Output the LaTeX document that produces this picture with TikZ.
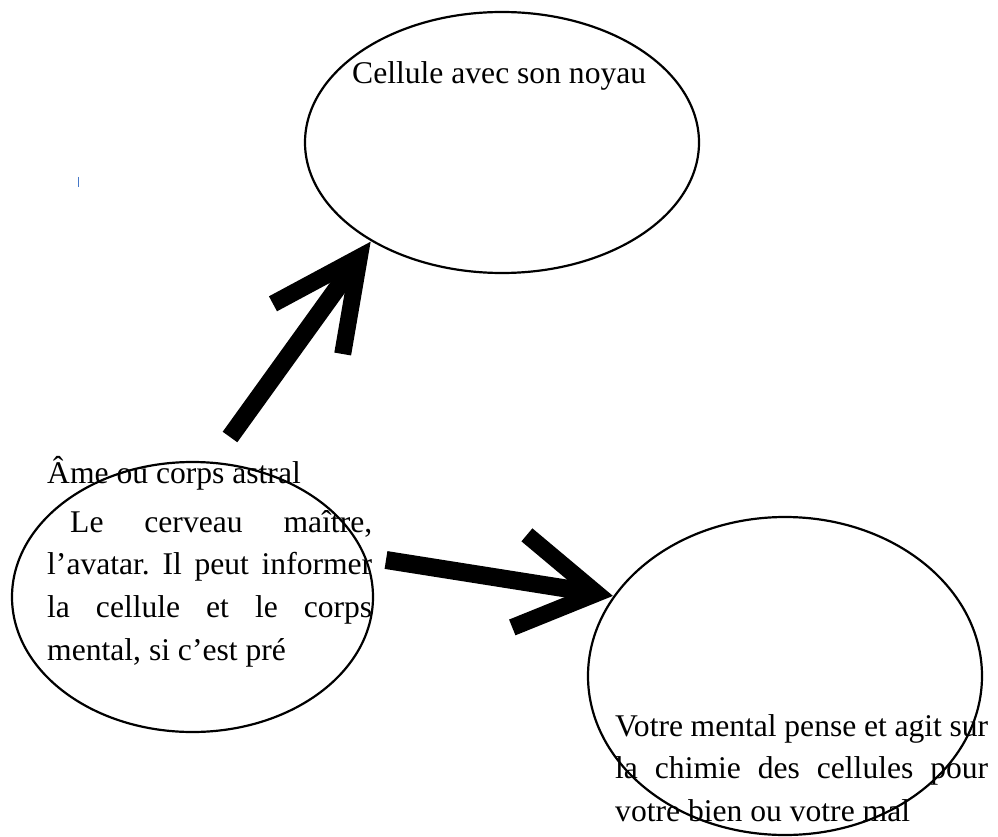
\documentclass[tikz,border=0pt]{standalone}
\usepackage{fontspec}
\setmainfont{Liberation Serif}
\usetikzlibrary{shapes.geometric,calc}
\definecolor{cursorblue}{RGB}{70,120,200}
\begin{document}
\frenchspacing
\begin{tikzpicture}[x=1pt,y=-1pt,
  bubble/.style={draw=black, line width=2.2pt, ellipse, inner sep=0pt},
  txt/.style={inner sep=0pt, font=\fontsize{31.6}{42.7}\selectfont},
  para/.style={txt, align=justify},
  shaft/.style={line width=18pt, line cap=butt},
  barbs/.style={line width=17pt, line join=miter, line cap=butt}]
\useasboundingbox (0,0) rectangle (998,837);
% ellipses
\node[bubble, minimum width=394pt, minimum height=261pt] (top) at (502,142.5) {};
\node[bubble, minimum width=361pt, minimum height=270pt] (left) at (192.5,597) {};
\node[bubble, minimum width=394pt, minimum height=318pt] (right) at (785,676) {};
% texts
\node[txt, anchor=base west] (toptxt) at (352,84) {Cellule avec son noyau};
\node[txt, anchor=base west] (ame) at (47,483) {Âme ou corps astral};
\node[para, anchor=base west, text width=325pt] (lefttxt) at (47,532)
  {\hspace*{23pt}Le cerveau maître,\linebreak l’avatar. Il peut informer\linebreak la cellule et le corps\linebreak mental, si c’est pré};
\node[para, anchor=base west, text width=373pt] (righttxt) at (615,736)
  {Votre mental pense et agit sur\linebreak la chimie des cellules pour\linebreak votre bien ou votre mal};
% arrow 1
\coordinate (t1) at (230,437);
\coordinate (v1) at ($(top.217)!20pt!(t1)$);
\draw[shaft] (t1) -- (v1);
\draw[barbs] ($(v1)!98pt!26:(t1)$) -- (v1) -- ($(v1)!98pt!-26:(t1)$);
% arrow 2
\coordinate (t2) at (386,560);
\coordinate (v2) at ($(right.155)!17pt!(t2)$);
\draw[shaft] (t2) -- (v2);
\draw[barbs] ($(v2)!91pt!31:(t2)$) -- (v2) -- ($(v2)!91pt!-31:(t2)$);
% stray cursor mark
\coordinate (cur) at (78.5,177);
\draw[cursorblue, line width=1.6pt] (cur) -- ++(0,10);
\end{tikzpicture}
\end{document}
